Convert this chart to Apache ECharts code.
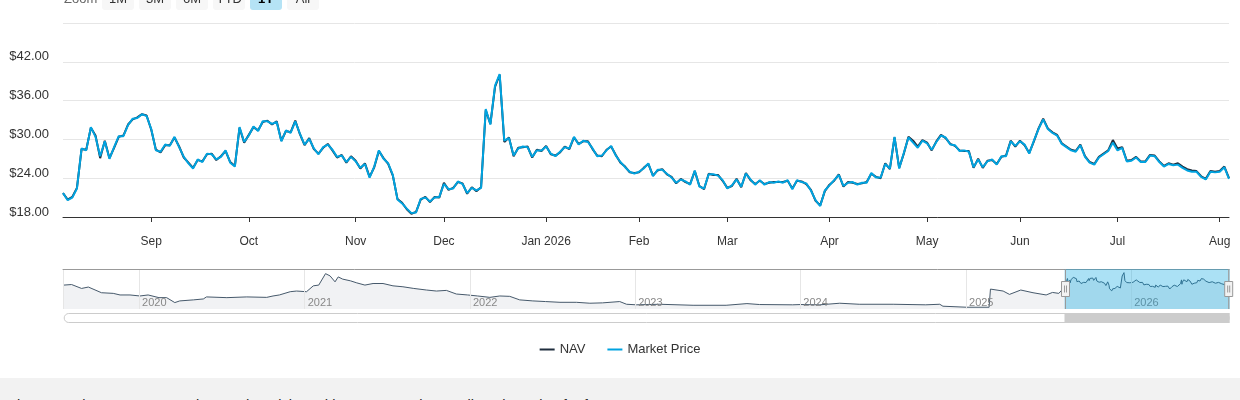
<!DOCTYPE html>
<html>
<head>
<meta charset="utf-8">
<script src="https://cdn.jsdelivr.net/npm/echarts@6/dist/echarts.min.js"></script>
<style>
  body { margin: 0; background: #fff; font-family: "Liberation Sans", Arial, sans-serif; }
  #wrap { position: relative; width: 1240px; height: 400px; overflow: hidden; }
  #chart { position: absolute; left: 0; top: 0; width: 1240px; height: 400px; }
  .zoomlbl { position: absolute; top: -12px; left: 64px; height: 22px; line-height: 22px; font-size: 13px; color: #666; }
  .btn { position: absolute; top: -12px; width: 32px; height: 22px; line-height: 22px; border-radius: 3px;
         background: #f7f7f7; font-size: 13px; color: #333; text-align: center; }
  .btn.on { background: #b5e3f5; color: #000; font-weight: bold; }
  #note { position: absolute; left: 0; top: 378px; width: 1240px; height: 40px; background: #f2f2f2; }
  #note span { position: absolute; left: 13px; top: 19px; font-size: 14.5px; line-height: 16px; color: #222; white-space: nowrap; }
</style>
</head>
<body>
<div id="wrap">
  <div id="chart"></div>
  <div class="zoomlbl">Zoom</div>
  <div class="btn" style="left:102px">1M</div>
  <div class="btn" style="left:139px">3M</div>
  <div class="btn" style="left:176px">6M</div>
  <div class="btn" style="left:213px">YTD</div>
  <div class="btn on" style="left:250px">1Y</div>
  <div class="btn" style="left:287px">All</div>
  <div id="note"><span>then on February 24, 2025, the Fund participated in a reverse share split at the ratio of 1-for-10</span></div>
</div>
<script>
// período de 1 ano (dias de pregão)
const startDay = "2025-08-05";
const endDay = "2026-08-05";
const holidays = [
  "2025-09-01", "2025-11-27", "2025-12-25", "2026-01-01", "2026-01-19",
  "2026-02-16", "2026-04-03", "2026-05-25", "2026-06-19", "2026-07-03",
];
const monthNames = ["Jan", "Feb", "Mar", "Apr", "May", "Jun", "Jul", "Aug", "Sep", "Oct", "Nov", "Dec"];

const marketPrice = [
  21.7, 20.6, 21.0, 22.4, 28.6, 28.3, 31.9, 30.4, 27.4, 29.7,
  27.0, 28.8, 30.5, 30.5, 32.2, 33.2, 33.3, 33.9, 33.6, 31.6,
  28.3, 28.1, 29.2, 29.0, 30.4, 28.8, 27.3, 26.3, 25.5, 26.9,
  26.5, 27.8, 27.7, 26.9, 27.3, 28.3, 26.4, 25.8, 31.9, 29.6,
  30.6, 32.0, 31.3, 32.8, 32.8, 32.4, 32.7, 29.7, 31.4, 31.0,
  32.8, 30.9, 29.2, 30.1, 28.6, 27.7, 28.8, 29.2, 28.4, 27.3,
  27.5, 26.5, 27.3, 26.6, 25.6, 26.2, 24.1, 25.8, 28.3, 27.0,
  26.3, 24.5, 20.7, 20.1, 19.3, 18.6, 18.7, 20.8, 21.0, 20.4,
  21.0, 21.1, 23.1, 22.3, 22.4, 23.5, 23.1, 21.7, 22.5, 22.1,
  22.5, 34.7, 32.3, 38.3, 40.1, 29.8, 30.2, 27.5, 28.6, 28.9,
  28.8, 27.3, 28.3, 28.3, 28.9, 27.8, 27.4, 28.1, 28.8, 28.6,
  30.4, 29.2, 29.8, 29.6, 28.6, 27.4, 27.5, 28.3, 29.0, 27.5,
  26.5, 25.7, 25.0, 24.7, 25.0, 25.5, 26.3, 24.3, 25.3, 25.3,
  24.7, 24.1, 23.3, 23.8, 23.5, 23.0, 25.2, 22.7, 22.4, 24.6,
  24.6, 24.4, 23.7, 22.4, 22.9, 23.8, 22.7, 24.7, 23.8, 23.0,
  23.7, 23.0, 23.4, 23.3, 23.5, 23.3, 23.7, 22.3, 23.7, 23.4,
  23.2, 22.1, 20.6, 19.7, 22.1, 22.9, 23.7, 24.5, 22.8, 23.3,
  23.4, 23.0, 23.3, 23.3, 24.8, 24.1, 24.1, 26.2, 25.5, 30.4,
  25.5, 27.9, 30.3, 29.5, 28.7, 29.8, 29.4, 28.4, 29.6, 30.6,
  30.3, 29.2, 29.1, 28.2, 28.3, 28.1, 25.7, 26.9, 25.7, 26.6,
  26.9, 26.1, 27.4, 27.4, 29.7, 29.0, 29.7, 29.2, 27.8, 29.8,
  31.6, 33.1, 31.6, 31.0, 30.6, 29.3, 28.8, 28.3, 28.1, 29.1,
  27.3, 26.4, 26.1, 27.2, 27.7, 28.2, 29.5, 28.3, 28.7, 26.6,
  26.7, 27.2, 26.5, 26.5, 27.5, 27.4, 26.5, 25.8, 26.2, 26.0,
  26.1, 25.6, 25.2, 25.0, 25.0, 24.2, 23.8, 25.0, 24.9, 25.0,
  25.7, 23.9,
];

const navValues = [
  21.7, 20.7, 21.1, 22.5, 28.5, 28.4, 31.8, 30.6, 27.1, 29.8,
  27.1, 28.7, 30.4, 30.6, 32.3, 33.1, 33.4, 33.9, 33.7, 31.5,
  28.4, 28.0, 29.1, 29.1, 30.3, 28.9, 27.2, 26.4, 25.6, 26.8,
  26.6, 27.7, 27.8, 26.8, 27.4, 28.2, 26.5, 25.9, 31.8, 29.5,
  30.7, 31.9, 31.4, 32.7, 32.9, 32.3, 32.8, 29.8, 31.3, 31.1,
  32.9, 30.8, 29.1, 30.2, 28.5, 27.8, 28.7, 29.3, 28.3, 27.2,
  27.6, 26.4, 27.4, 26.7, 25.5, 26.3, 24.2, 25.7, 28.2, 27.1,
  26.2, 24.4, 20.8, 20.2, 19.2, 18.5, 18.8, 20.7, 21.1, 20.3,
  21.1, 21.0, 23.3, 22.2, 22.5, 23.4, 23.2, 21.6, 22.6, 22.0,
  22.6, 34.5, 32.4, 38.1, 40.0, 29.6, 30.3, 27.4, 28.7, 28.8,
  28.9, 27.2, 28.4, 28.2, 29.0, 27.7, 27.5, 28.0, 28.9, 28.5,
  30.3, 29.3, 29.7, 29.7, 28.5, 27.5, 27.4, 28.4, 28.9, 27.6,
  26.4, 25.8, 24.9, 24.8, 24.9, 25.6, 26.2, 24.4, 25.2, 25.4,
  24.6, 24.2, 23.2, 23.9, 23.4, 23.1, 25.1, 22.8, 22.3, 24.7,
  24.5, 24.5, 23.6, 22.5, 22.8, 23.9, 22.6, 24.8, 23.7, 23.1,
  23.6, 23.1, 23.3, 23.4, 23.4, 23.4, 23.6, 22.4, 23.6, 23.5,
  23.1, 22.2, 20.5, 19.8, 22.0, 23.0, 23.6, 24.6, 22.7, 23.4,
  23.3, 23.1, 23.2, 23.4, 24.7, 24.2, 24.0, 26.3, 25.4, 30.3,
  25.6, 27.8, 30.4, 29.8, 28.9, 29.9, 29.5, 28.3, 29.7, 30.7,
  30.2, 29.3, 29.0, 28.3, 28.2, 28.2, 25.6, 27.0, 25.6, 26.7,
  26.8, 26.2, 27.3, 27.5, 29.8, 28.9, 29.8, 29.1, 27.9, 29.7,
  31.7, 33.2, 31.7, 31.1, 30.7, 29.4, 28.9, 28.4, 28.2, 29.2,
  27.4, 26.5, 26.2, 27.3, 27.8, 28.3, 29.9, 28.6, 28.8, 26.7,
  26.8, 27.3, 26.6, 26.6, 27.6, 27.5, 26.6, 25.9, 26.3, 26.1,
  26.3, 25.8, 25.4, 25.2, 25.1, 24.3, 23.9, 25.1, 25.0, 25.1,
  25.8, 24.0,
];

// histórico do navegador (antes da janela de 1 ano)
const historyStart = "2019-07-17";
const historyDates = [
  "2019-07-19", "2019-08-05", "2019-08-27", "2019-09-11", "2019-10-10", "2019-11-05", "2019-11-20", "2019-12-12",
  "2020-01-03", "2020-01-21", "2020-02-14", "2020-03-02", "2020-03-20", "2020-03-31", "2020-04-30", "2020-05-22",
  "2020-05-29", "2020-07-13", "2020-08-26", "2020-10-09", "2020-10-23", "2020-11-06", "2020-11-30", "2020-12-14",
  "2021-01-05", "2021-01-20", "2021-02-01", "2021-02-16", "2021-02-26", "2021-03-09", "2021-03-16", "2021-03-26",
  "2021-04-12", "2021-04-26", "2021-05-14", "2021-06-01", "2021-06-23", "2021-07-15", "2021-08-06", "2021-08-30",
  "2021-09-27", "2021-10-19", "2021-11-10", "2021-12-02", "2021-12-27", "2022-01-18", "2022-02-14", "2022-03-08",
  "2022-03-30", "2022-04-21", "2022-05-20", "2022-06-17", "2022-07-19", "2022-08-24", "2022-09-23", "2022-10-21",
  "2022-11-28", "2022-12-13", "2023-01-04", "2023-02-24", "2023-05-09", "2023-07-21", "2023-09-05", "2023-10-03",
  "2023-12-15", "2024-01-02", "2024-02-13", "2024-03-28", "2024-05-10", "2024-07-24", "2024-10-04", "2024-11-04",
  "2024-11-11", "2025-01-02", "2025-02-21", "2025-02-24", "2025-03-24", "2025-04-07", "2025-05-02", "2025-05-29",
  "2025-06-27", "2025-07-11", "2025-07-25",
];
const historyValues = [
  24.7, 25.3, 21.1, 22.6, 16.5, 15.8, 14.1, 14.1,
  13.0, 14.1, 11.2, 11.2, 5.9, 7.7, 8.8, 9.8,
  12.0, 11.2, 12.0, 11.5, 13.0, 14.1, 17.6, 18.3,
  17.6, 23.9, 24.7, 37.0, 34.6, 28.2, 33.5, 31.1,
  29.3, 27.1, 24.7, 26.4, 26.4, 23.9, 22.9, 21.1,
  19.4, 18.3, 19.0, 15.1, 14.1, 13.0, 11.5, 13.0,
  12.6, 8.8, 7.7, 7.0, 6.2, 6.2, 5.2, 5.6,
  7.0, 4.1, 3.5, 4.1, 3.0, 3.0, 4.8, 3.8,
  3.5, 3.8, 3.5, 5.2, 4.1, 4.1, 3.5, 4.1,
  2.0, 0.9, 0.9, 20.4, 18.3, 14.7, 19.4, 16.5,
  14.1, 16.8, 15.8,
];

function tradingDays(from, to) {
  let out = [];
  let d = new Date(from + "T00:00:00Z");
  let end = new Date(to + "T00:00:00Z");
  while (d <= end) {
    let s = d.toISOString().slice(0, 10);
    let wd = d.getUTCDay();
    if (wd !== 0 && wd !== 6 && holidays.indexOf(s) < 0) out.push(s);
    d.setUTCDate(d.getUTCDate() + 1);
  }
  return out;
}

const days = tradingDays(startDay, endDay);
const isMonthStart = (i) => i > 0 && days[i].slice(5, 7) !== days[i - 1].slice(5, 7);

const navigatorData = historyDates
  .map((d, i) => [d, historyValues[i]])
  .concat(days.map((d, i) => [d, navValues[i]]));

const font = '"Liberation Sans", Arial, sans-serif';
const handlePath =
  "path://M4,0V12.5M0,12.5H8V27.5H0ZM4,27.5V40M3,16.5V23.5M5,16.5V23.5";

let options = {
  animation: false,
  textStyle: { fontFamily: font },
  legend: {
    data: ["NAV", "Market Price"],
    top: 338,
    left: "center",
    icon: "rect",
    itemWidth: 15,
    itemHeight: 2,
    itemGap: 22,
    textStyle: { fontSize: 13, color: "#333", fontFamily: font },
  },
  grid: [
    { left: 63, right: 11, top: 23, height: 194 },
    { left: 63, right: 11, top: 269, height: 40 },
  ],
  xAxis: [
    {
      type: "category",
      gridIndex: 0,
      data: days,
      boundaryGap: false,
      axisLine: { lineStyle: { color: "#333", width: 1 } },
      axisTick: { interval: (i) => isMonthStart(i), length: 5, lineStyle: { color: "#333" } },
      axisLabel: {
        interval: (i) => isMonthStart(i),
        margin: 19,
        fontSize: 12,
        color: "#333",
        formatter: (v) => {
          let m = +v.slice(5, 7);
          return m === 1 ? monthNames[0] + " " + v.slice(0, 4) : monthNames[m - 1];
        },
      },
      splitLine: { show: false },
    },
    {
      type: "time",
      gridIndex: 1,
      min: historyStart,
      max: endDay,
      splitNumber: 7,
      minInterval: 365 * 24 * 3600 * 1000,
      z: 3,
      axisLine: { show: false },
      axisTick: { show: false },
      axisLabel: {
        inside: true,
        align: "left",
        margin: 1,
        fontSize: 11,
        color: "#888",
        padding: [0, 0, 0, 3],
        showMinLabel: false,
        showMaxLabel: false,
        formatter: "{yyyy}",
      },
      splitLine: { show: true, lineStyle: { color: "#e6e6e6" } },
    },
    {
      type: "time",
      gridIndex: 1,
      min: historyStart,
      max: endDay,
      position: "top",
      z: 3,
      axisLine: { show: true, lineStyle: { color: "#999" } },
      axisTick: { show: false },
      axisLabel: { show: false },
      splitLine: { show: false },
    },
  ],
  yAxis: [
    {
      type: "value",
      gridIndex: 0,
      min: 18,
      max: 48,
      interval: 6,
      axisLine: { show: false },
      axisTick: { show: false },
      axisLabel: {
        margin: 14,
        fontSize: 13,
        color: "#333",
        verticalAlign: "bottom",
        lineHeight: 10,
        formatter: (v) => (v === 48 ? "" : "$" + v.toFixed(2)),
      },
      splitLine: { lineStyle: { color: "#e6e6e6" } },
    },
    { type: "value", gridIndex: 1, min: -1, max: 42, show: false },
  ],
  dataZoom: [
    {
      type: "slider",
      xAxisIndex: 2,
      left: 63,
      right: 11,
      top: 269,
      height: 40,
      startValue: +echarts.time.parse(startDay),
      endValue: +echarts.time.parse(endDay),
      zoomLock: true,
      showDataShadow: false,
      showDetail: false,
      brushSelect: false,
      moveHandleSize: 0,
      moveHandleStyle: { opacity: 0 },
      backgroundColor: "rgba(0,0,0,0)",
      borderColor: "rgba(0,0,0,0)",
      fillerColor: "rgba(0,163,224,0.33)",
      dataBackground: { lineStyle: { opacity: 0 }, areaStyle: { opacity: 0 } },
      selectedDataBackground: { lineStyle: { opacity: 0 }, areaStyle: { opacity: 0 } },
      handleIcon: handlePath,
      handleSize: "100%",
      handleStyle: { color: "#f2f2f2", borderColor: "#999", borderWidth: 1 },
      emphasis: { handleStyle: { color: "#f2f2f2", borderColor: "#999", borderWidth: 1 } },
    },
    {
      type: "slider",
      xAxisIndex: 2,
      left: 63,
      right: 11,
      top: 313,
      height: 10,
      startValue: +echarts.time.parse(startDay),
      endValue: +echarts.time.parse(endDay),
      zoomLock: true,
      showDataShadow: false,
      showDetail: false,
      brushSelect: false,
      moveHandleSize: 0,
      moveHandleStyle: { opacity: 0 },
      backgroundColor: "#fff",
      borderColor: "#ccc",
      borderRadius: 5,
      fillerColor: "#cccccc",
      dataBackground: { lineStyle: { opacity: 0 }, areaStyle: { opacity: 0 } },
      selectedDataBackground: { lineStyle: { opacity: 0 }, areaStyle: { opacity: 0 } },
      handleSize: "100%",
      handleStyle: { opacity: 0 },
      emphasis: { handleStyle: { opacity: 0 } },
    },
  ],
  series: [
    {
      name: "NAV",
      type: "line",
      xAxisIndex: 0,
      yAxisIndex: 0,
      symbol: "none",
      data: navValues,
      color: "#1f2d3d",
      lineStyle: { width: 2 },
      z: 2,
      emphasis: { disabled: true },
    },
    {
      name: "Market Price",
      type: "line",
      xAxisIndex: 0,
      yAxisIndex: 0,
      symbol: "none",
      data: marketPrice,
      color: "#00a3e0",
      lineStyle: { width: 2 },
      z: 3,
      emphasis: { disabled: true },
    },
    {
      name: "navigator",
      type: "line",
      xAxisIndex: 1,
      yAxisIndex: 1,
      symbol: "none",
      data: navigatorData,
      silent: true,
      color: "#46596b",
      lineStyle: { width: 1 },
      areaStyle: { color: "#f1f2f4", origin: "start", opacity: 1 },
      z: 1,
    },
    {
      // série invisível que ancora o dataZoom do navegador
      name: "navigatorAnchor",
      type: "line",
      xAxisIndex: 2,
      yAxisIndex: 1,
      symbol: "none",
      data: navigatorData,
      silent: true,
      lineStyle: { opacity: 0 },
      z: 0,
    },
  ],
};

var chart = echarts.init(document.getElementById("chart"));
chart.setOption(options);
window.addEventListener("resize", function () {
  chart.resize();
});
</script>
</body>
</html>
